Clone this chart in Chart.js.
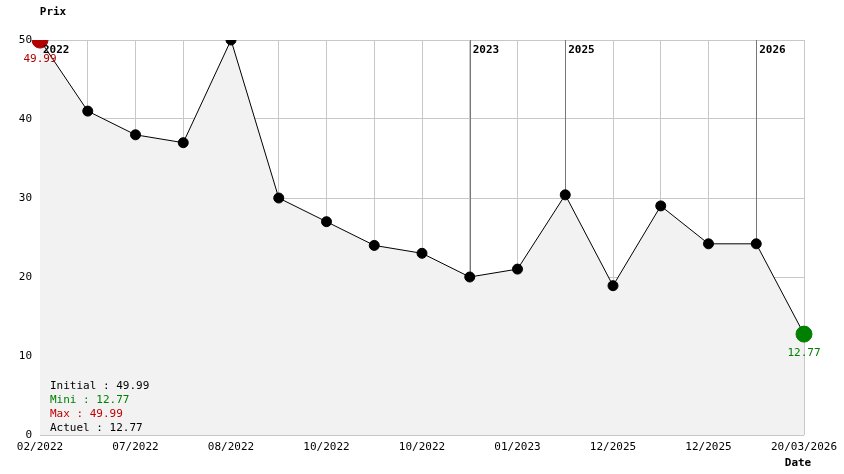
<!DOCTYPE html>
<html><head><meta charset="utf-8">
<script src="https://cdn.jsdelivr.net/npm/chart.js@4/dist/chart.umd.min.js"></script>
<style>body{margin:0;background:#fff}#wrap{width:844px;height:474px;position:relative}</style>
</head><body><div id="wrap"><canvas id="c" width="844" height="474"></canvas></div>
<script>
const labels = ['02/2022','','07/2022','','08/2022','','10/2022','','10/2022','','01/2023','','12/2025','','12/2025','','20/03/2026'];
const prices = [49.99, 41, 38, 37, 50, 30, 27, 24, 23, 20, 21, 30.4, 18.9, 29, 24.2, 24.2, 12.77];
const yearMarks = [[0,'2022'],[9,'2023'],[11,'2025'],[15,'2026']];
const infoLines = [['Initial : 49.99','#000'],['Mini : 12.77','#008000'],['Max : 49.99','#c00000'],['Actuel : 12.77','#000']];
const FONT = '11px "DejaVu Sans Mono", monospace';

// points spéciaux : max en rouge, dernier en vert
const ptColors = prices.map((v,i) => i === 0 ? '#b00000' : (i === prices.length-1 ? '#008000' : '#000'));
const ptRadius = prices.map((v,i) => (i === 0 || i === prices.length-1) ? 8 : 5);

const extras = {
  id: 'extras',
  beforeDatasetsDraw(chart) {
    const {ctx, chartArea: a, scales: {x}} = chart;
    ctx.save();
    ctx.strokeStyle = '#777';
    ctx.lineWidth = 1;
    yearMarks.forEach(([i]) => {
      const px = Math.round(x.getPixelForValue(i)) + 0.5;
      ctx.beginPath(); ctx.moveTo(px, a.top); ctx.lineTo(px, a.bottom); ctx.stroke();
    });
    ctx.restore();
  },
  afterDatasetsDraw(chart) {
    const {ctx, chartArea: a, scales: {x, y}} = chart;
    ctx.save();
    ctx.font = 'bold ' + FONT;
    ctx.fillStyle = '#000';
    ctx.textBaseline = 'top';
    yearMarks.forEach(([i, t]) => ctx.fillText(t, x.getPixelForValue(i) + 3, a.top + 5));
    ctx.font = FONT;
    ctx.textBaseline = 'middle';
    infoLines.forEach(([t, c], k) => { ctx.fillStyle = c; ctx.fillText(t, a.left + 10, 386 + k * 14); });
    ctx.textAlign = 'center';
    ctx.fillStyle = '#b00000';
    ctx.fillText('49.99', x.getPixelForValue(0), y.getPixelForValue(prices[0]) + 19);
    ctx.fillStyle = '#008000';
    const last = prices.length - 1;
    ctx.fillText('12.77', x.getPixelForValue(last), y.getPixelForValue(prices[last]) + 19);
    ctx.fillStyle = '#000';
    ctx.font = 'bold ' + FONT;
    ctx.fillText('Prix', 53, 12);
    ctx.fillText('Date', 798, 463);
    ctx.restore();
  }
};

new Chart(document.getElementById('c'), {
  type: 'line',
  data: { labels, datasets: [{
    data: prices,
    borderColor: '#000', borderWidth: 1, tension: 0,
    fill: true, backgroundColor: '#f2f2f2',
    pointBackgroundColor: ptColors, pointBorderColor: ptColors,
    pointRadius: ptRadius, pointHoverRadius: ptRadius
  }]},
  options: {
    responsive: false, animation: false, devicePixelRatio: 1,
    layout: { padding: { top: 40, right: 40, left: 0, bottom: 20 } },
    plugins: { legend: { display: false }, tooltip: { enabled: false } },
    scales: {
      x: { offset: false,
        afterFit(s) { s.height = 19; },
        grid: { color: '#c8c8c8', drawTicks: false },
        border: { display: false },
        ticks: { autoSkip: false, maxRotation: 0, padding: 6, color: '#000', font: { family: 'DejaVu Sans Mono', size: 11 } } },
      y: { min: 0, max: 50,
        afterFit(s) { s.width = 40; },
        grid: { color: '#c8c8c8', drawTicks: false },
        border: { display: false },
        ticks: { stepSize: 10, padding: 8, color: '#000', font: { family: 'DejaVu Sans Mono', size: 11 } } }
    }
  },
  plugins: [extras]
});
</script>
</body></html>
